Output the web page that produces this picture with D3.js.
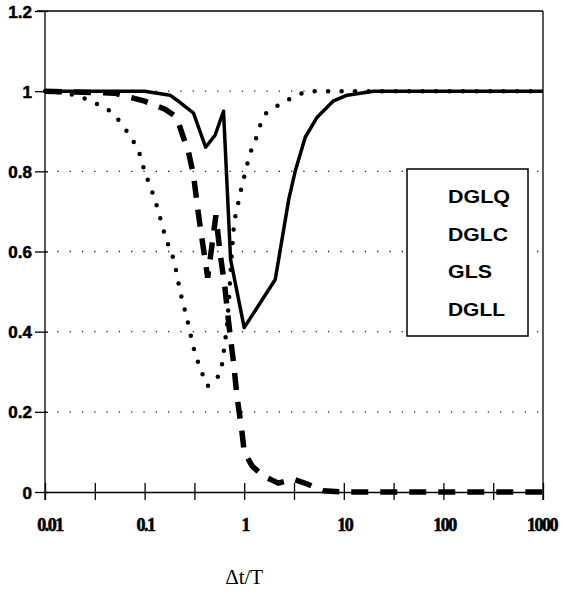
<!DOCTYPE html>
<html>
<head>
<meta charset="utf-8">
<script src="https://cdn.jsdelivr.net/npm/d3@7"></script>
<style>
  body { margin: 0; background: #fff; }
  svg { display: block; }
</style>
</head>
<body>
<div id="chart"></div>
<script>
// values: [dt/T, ratio]
const legendNames = ["DGLQ", "DGLC", "GLS", "DGLL"];

const dglqSolid = [
  [0.01, 1.0], [0.1, 1.0], [0.18, 0.99], [0.21, 0.978], [0.31, 0.945], [0.41, 0.86],
  [0.51, 0.89], [0.62, 0.95], [0.73, 0.58], [1.0, 0.41], [2.05, 0.53], [2.8, 0.73],
  [3.25, 0.8], [4.1, 0.885], [5.4, 0.935], [7.8, 0.975], [10.8, 0.99], [20, 1.0], [1000, 1.0]
];

const dglcDashed = [
  [0.01, 1.0], [0.05, 0.995], [0.1, 0.975], [0.16, 0.955], [0.21, 0.935], [0.245, 0.885],
  [0.275, 0.85], [0.31, 0.79], [0.34, 0.71], [0.36, 0.665], [0.43, 0.535], [0.52, 0.69],
  [0.57, 0.6], [0.64, 0.51], [0.7, 0.42], [0.775, 0.33], [0.85, 0.235], [0.955, 0.145],
  [1.0, 0.1], [1.2, 0.065], [1.55, 0.04], [2.2, 0.022], [3.1, 0.032], [4.3, 0.02],
  [6.2, 0.003], [10, 0.0], [1000, 0.0]
];

const glsDotted = [
  [0.01, 1.0], [0.02, 0.99], [0.032, 0.97], [0.041, 0.957], [0.052, 0.935], [0.062, 0.91],
  [0.075, 0.88], [0.09, 0.84], [0.1, 0.8], [0.115, 0.76], [0.134, 0.71], [0.16, 0.64],
  [0.2, 0.57], [0.228, 0.5], [0.268, 0.43], [0.31, 0.36], [0.38, 0.295], [0.42, 0.265],
  [0.535, 0.285], [0.6, 0.32], [0.63, 0.36], [0.68, 0.43], [0.74, 0.57], [0.78, 0.65],
  [0.87, 0.72], [1.02, 0.795], [1.15, 0.845], [1.35, 0.89], [1.55, 0.935], [2.05, 0.96],
  [2.6, 0.975], [3.4, 0.99], [5, 1.0], [1000, 1.0]
];

const xTickLabels = ["0.01", "0.1", "1", "10", "100", "1000"];
const xTickValues = [0.01, 0.1, 1, 10, 100, 1000];
const yTickValues = [0, 0.2, 0.4, 0.6, 0.8, 1, 1.2];

const W = 562, H = 597;
const margin = {top: 11, right: 19, bottom: 105, left: 45};
const width = W - margin.left - margin.right,
      height = H - margin.top - margin.bottom;

const svg = d3.select("#chart").append("svg")
  .attr("width", W).attr("height", H);
const g = svg.append("g")
  .attr("transform", `translate(${margin.left}, ${margin.top})`);

const x = d3.scaleLog().domain([0.01, 1000]).range([0, width]);
const y = d3.scaleLinear().domain([0, 1.2]).range([height, 0]);

// dotted gridlines
g.selectAll(".grid")
  .data(yTickValues.filter(v => v > 0 && v < 1.2))
  .join("line")
  .attr("x1", 0).attr("x2", width)
  .attr("y1", d => y(d)).attr("y2", d => y(d))
  .attr("stroke", "#222").attr("stroke-width", 1.3)
  .attr("stroke-dasharray", "1.3,11");

// frame: top and right
g.append("line").attr("x1", -8).attr("x2", width).attr("y1", 0).attr("y2", 0)
  .attr("stroke", "#000").attr("stroke-width", 1.3);
g.append("line").attr("x1", width).attr("x2", width).attr("y1", 0).attr("y2", height + 8)
  .attr("stroke", "#000").attr("stroke-width", 1.3);

// y axis
const yAxis = g.append("g")
  .call(d3.axisLeft(y).tickValues(yTickValues).tickSize(10).tickSizeOuter(0)
    .tickFormat(d => d3.format("")(+d.toFixed(1))));
yAxis.select(".domain").remove();
yAxis.append("line").attr("x1", 0).attr("x2", 0).attr("y1", 0).attr("y2", height + 8)
  .attr("stroke", "#000").attr("stroke-width", 1.3);
yAxis.selectAll(".tick line").attr("stroke-width", 1.3).attr("x2", 3).attr("x1", -10);
yAxis.selectAll(".tick text")
  .attr("x", -13).attr("dy", "0.36em")
  .style("font-family", "'Liberation Sans', Arial, sans-serif")
  .style("font-weight", "bold").style("font-size", "17px")
  .attr("fill", "#000").attr("stroke", "#000").attr("stroke-width", 0.5);

// x axis
const halfDecades = d3.range(-4, 7).map(k => Math.pow(10, k / 2));
const xAxis = g.append("g")
  .attr("transform", `translate(0, ${height})`)
  .call(d3.axisBottom(x).tickValues(halfDecades).tickSize(8).tickSizeOuter(0).tickFormat(""));
xAxis.select(".domain").attr("stroke-width", 1.3);
xAxis.selectAll(".tick line").attr("y1", -9).attr("y2", 8).attr("stroke-width", 1.3);

g.selectAll(".xlab")
  .data(xTickValues)
  .join("text")
  .attr("x", (d, i) => x(d) + (i === 0 ? 5 : i === xTickValues.length - 1 ? -1 : 1))
  .attr("y", height + 39)
  .attr("text-anchor", "middle")
  .style("font-family", "'Liberation Serif', 'Times New Roman', serif")
  .style("font-weight", "bold").style("font-size", "18px")
  .style("letter-spacing", "-1.5px")
  .attr("stroke", "#000").attr("stroke-width", 0.6)
  .text((d, i) => xTickLabels[i]);

// axis title
svg.append("text")
  .attr("x", margin.left + x(1)).attr("y", 584)
  .attr("text-anchor", "middle")
  .style("font-family", "'Liberation Serif', 'Times New Roman', serif")
  .style("font-size", "21px")
  .text("\u0394t/T");

// curves
g.append("path").datum(glsDotted)
  .attr("d", d3.line().curve(d3.curveMonotoneX).x(d => x(d[0])).y(d => y(d[1])))
  .attr("fill", "none").attr("stroke", "#000").attr("stroke-width", 4.5)
  .attr("stroke-linecap", "round").attr("stroke-dasharray", "0,13.5");

g.append("path").datum(dglcDashed)
  .attr("d", d3.line().x(d => x(d[0])).y(d => y(d[1])))
  .attr("fill", "none").attr("stroke", "#000").attr("stroke-width", 5.5)
  .attr("stroke-dasharray", "17,12");

g.append("path").datum(dglqSolid)
  .attr("d", d3.line().x(d => x(d[0])).y(d => y(d[1])))
  .attr("fill", "none").attr("stroke", "#000").attr("stroke-width", 3.5)
  .attr("stroke-linejoin", "round");

// legend box
const lg = g.append("g").attr("transform", `translate(${407 - margin.left}, ${169 - margin.top})`);
lg.append("rect").attr("width", 121).attr("height", 167)
  .attr("fill", "#fff").attr("stroke", "#000").attr("stroke-width", 1.5);
const legendWidths = [62, 60, 44, 57];
lg.selectAll("text")
  .data(legendNames)
  .join("text")
  .attr("x", 41)
  .attr("y", (d, i) => 34 + i * 37.5)
  .attr("textLength", (d, i) => legendWidths[i])
  .attr("lengthAdjust", "spacingAndGlyphs")
  .style("font-family", "'Liberation Sans', Arial, sans-serif")
  .style("font-weight", "bold").style("font-size", "19px")
  .text(d => d);
</script>
</body>
</html>
